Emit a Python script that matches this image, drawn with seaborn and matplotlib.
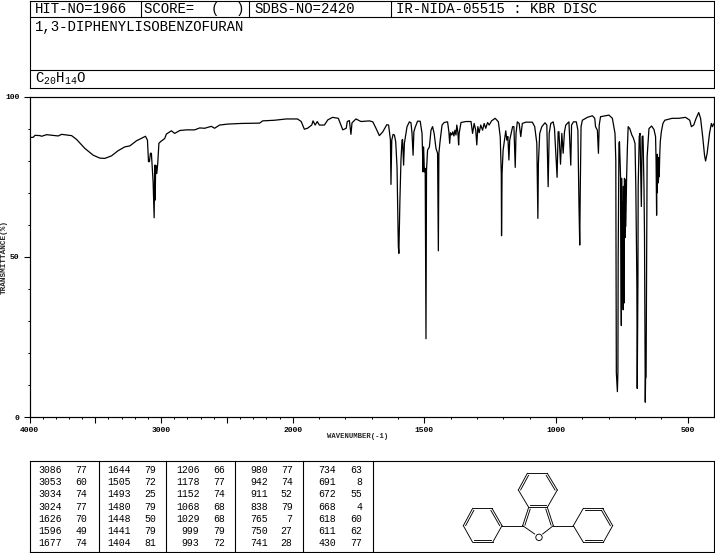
import numpy as np
import pandas as pd
import matplotlib
matplotlib.use("Agg")
import matplotlib.pyplot as plt
import seaborn as sns
from matplotlib.patches import Circle

# ---- data ----
wavenumber = [
    4000, 3996, 3971, 3958, 3920, 3908, 3870, 3782, 3756, 3680, 3642, 3579, 3516, 3466, 3428, 3377,
    3327, 3276, 3238, 3187, 3119, 3104, 3096, 3089, 3081, 3074, 3069, 3061, 3053, 3049, 3046, 3041,
    3033, 3026, 3017, 3005, 2973, 2960, 2922, 2897, 2858, 2808, 2770, 2745, 2707, 2669, 2619, 2594,
    2556, 2495, 2391, 2252, 2229, 2138, 2050, 1982, 1968, 1956, 1944, 1928, 1923, 1915, 1907, 1899,
    1880, 1867, 1849, 1827, 1810, 1797, 1793, 1785, 1779, 1775, 1760, 1741, 1709, 1696, 1684, 1671,
    1658, 1643, 1636, 1629, 1627, 1624, 1619, 1614, 1609, 1604, 1599, 1597, 1593, 1589, 1585, 1583,
    1579, 1576, 1572, 1566, 1557, 1551, 1547, 1543, 1540, 1535, 1526, 1516, 1509, 1505, 1503, 1500,
    1497, 1494, 1492, 1488, 1481, 1475, 1469, 1463, 1456, 1450, 1447, 1445, 1440, 1433, 1425, 1412,
    1407, 1404, 1401, 1396, 1392, 1388, 1384, 1380, 1377, 1373, 1370, 1368, 1361, 1342, 1323, 1317,
    1311, 1305, 1301, 1297, 1292, 1286, 1279, 1273, 1267, 1260, 1254, 1245, 1231, 1219, 1212, 1208,
    1207, 1205, 1201, 1196, 1191, 1187, 1183, 1179, 1176, 1165, 1160, 1155, 1152, 1147, 1140, 1134,
    1128, 1115, 1090, 1081, 1073, 1069, 1067, 1062, 1054, 1042, 1035, 1030, 1026, 1020, 1011, 1006,
    1001, 996, 992, 989, 983, 978, 973, 968, 963, 951, 944, 941, 934, 923, 917, 913,
    910, 908, 905, 900, 881, 862, 853, 850, 843, 839, 836, 831, 799, 786, 776, 773,
    771, 767, 765, 764, 761, 759, 755, 752, 751, 749, 748, 746, 745, 744, 743, 742,
    740, 738, 737, 735, 732, 729, 726, 720, 712, 706, 700, 697, 694, 693, 691.6, 689,
    688, 684, 681, 676, 673, 670, 669, 666, 664, 661, 660, 658, 656, 654, 647, 637,
    628, 622, 620, 618, 617, 616, 615, 613, 612, 611, 610, 608, 606, 604, 600, 594,
    587, 559, 534, 508, 492, 486, 477, 468, 458, 451, 443, 436, 432, 426, 417, 410,
    406, 401,
]
transmittance = [
    87.2, 87.2, 87.3, 87.9, 87.8, 87.6, 88.1, 87.7, 88.2, 87.8, 86.6, 83.8, 81.7, 80.8, 80.7, 81.5,
    83.1, 84.3, 84.6, 86.2, 87.6, 86.4, 79.7, 79.7, 82.3, 82.3, 78.9, 73.4, 62.2, 78.6, 67.7, 78.6,
    76.0, 79.0, 85.4, 85.9, 86.9, 88.3, 89.3, 88.5, 89.4, 89.6, 89.6, 89.6, 90.2, 90.1, 90.7, 90.1,
    91.1, 91.4, 91.6, 91.7, 92.4, 92.6, 93.0, 93.0, 92.2, 89.8, 90.1, 91.1, 92.4, 91.1, 92.2, 91.1,
    91.1, 92.7, 93.5, 93.2, 89.6, 90.1, 92.2, 92.5, 88.2, 91.8, 93.0, 92.2, 92.4, 92.1, 90.1, 87.8,
    89.0, 91.2, 91.1, 86.4, 72.6, 86.4, 88.2, 88.0, 85.9, 78.1, 53.2, 51.1, 67.7, 80.2, 86.4, 86.6,
    78.6, 85.4, 87.5, 90.6, 92.1, 91.8, 88.5, 81.7, 89.0, 90.4, 92.3, 92.3, 88.5, 76.5, 84.3, 76.5,
    77.6, 24.5, 77.0, 83.3, 84.3, 89.5, 90.6, 88.5, 83.8, 82.3, 51.9, 82.3, 86.4, 91.1, 91.9, 92.1,
    89.0, 85.4, 88.7, 88.0, 89.0, 87.7, 89.5, 88.0, 91.1, 89.0, 84.9, 88.5, 91.9, 92.2, 92.2, 88.5,
    91.6, 89.5, 84.9, 90.6, 88.7, 91.1, 89.5, 91.6, 90.1, 91.9, 91.1, 92.4, 93.2, 92.1, 87.5, 76.0,
    56.6, 76.0, 83.3, 86.4, 89.3, 86.4, 87.5, 80.2, 86.4, 90.6, 90.6, 77.9, 88.5, 92.1, 91.6, 87.5,
    91.6, 92.0, 92.0, 90.6, 85.4, 62.0, 79.1, 88.5, 90.6, 91.8, 91.1, 71.9, 88.5, 91.6, 92.1, 90.1,
    82.3, 74.8, 89.0, 89.0, 78.9, 88.5, 82.3, 89.0, 91.1, 92.1, 78.6, 91.1, 92.1, 92.1, 89.5, 66.7,
    53.7, 70.8, 90.6, 92.6, 93.5, 94.0, 93.2, 90.6, 89.5, 82.3, 91.1, 93.7, 94.2, 93.2, 88.5, 80.0,
    14.0, 8.0, 14.0, 50.0, 85.4, 85.9, 75.0, 28.6, 74.5, 42.0, 67.0, 45.0, 33.5, 72.0, 40.0, 35.6,
    74.5, 56.0, 74.0, 59.5, 74.5, 84.0, 90.6, 90.0, 88.0, 87.0, 85.4, 72.0, 50.6, 41.8, 9.0, 41.8,
    72.0, 87.5, 88.5, 65.7, 87.5, 87.7, 85.0, 72.0, 57.0, 4.7, 12.0, 12.5, 50.0, 81.2, 90.0, 90.8,
    89.7, 87.5, 80.0, 63.0, 78.0, 70.0, 82.0, 73.0, 80.0, 74.0, 81.0, 75.0, 82.0, 86.0, 89.0, 91.6,
    92.6, 93.2, 93.2, 93.5, 92.6, 90.6, 91.1, 93.2, 95.0, 93.2, 87.5, 81.7, 79.9, 82.3, 88.5, 91.6,
    90.6, 91.5,
]

x_major = [4000, 3500, 3000, 2500, 2000, 1500, 1000, 500]
x_labels = {4000: "4000", 3000: "3000", 2000: "2000", 1500: "1500", 1000: "1000", 500: "500"}
x_minor = list(range(3900, 2000, -100)) + list(range(1900, 400, -100))
y_major = [0, 50, 100]
y_minor = [10, 20, 30, 40, 60, 70, 80, 90]

peak_col1 = [("3086", "77"), ("3053", "60"), ("3034", "74"), ("3024", "77"), ("1626", "70"), ("1596", "49"), ("1677", "74")]
peak_col2 = [("1644", "79"), ("1505", "72"), ("1493", "25"), ("1480", "79"), ("1448", "50"), ("1441", "79"), ("1404", "81")]
peak_col3 = [("1206", "66"), ("1178", "77"), ("1152", "74"), ("1068", "68"), ("1029", "68"), ("999", "79"), ("993", "72")]
peak_col4 = [("980", "77"), ("942", "74"), ("911", "52"), ("838", "79"), ("765", "7"), ("750", "27"), ("741", "28")]
peak_col5 = [("734", "63"), ("691", "8"), ("672", "55"), ("668", "4"), ("618", "60"), ("611", "62"), ("430", "77")]

# ---- figure ----
sns.set_style("white")
MONO = ["Liberation Mono", "DejaVu Sans Mono"]
plt.rcParams["font.family"] = MONO
plt.rcParams["mathtext.fontset"] = "custom"
plt.rcParams["mathtext.rm"] = "Liberation Mono"
plt.rcParams["mathtext.default"] = "regular"

W, H = 715, 553
PX = 0.72
fig = plt.figure(figsize=(W / 100, H / 100), dpi=100, facecolor="white")
ax = fig.add_axes([29.5 / W, 1 - 417.3 / H, 684.5 / W, 320.8 / H])

df = pd.DataFrame({"wavenumber": wavenumber, "transmittance": transmittance})
sns.lineplot(data=df, x="wavenumber", y="transmittance", sort=False, estimator=None,
             errorbar=None, color="black", linewidth=0.9, ax=ax)


def fwd(w):
    w = np.asarray(w, dtype=float)
    return np.where(w > 2000, 2000 + (w - 2000) * 0.5, w)


def inv(v):
    v = np.asarray(v, dtype=float)
    return np.where(v > 2000, 2000 + (v - 2000) * 2.0, v)


ax.set_xscale("function", functions=(fwd, inv))
ax.set_xlim(4000, 400)
ax.set_ylim(0, 100)
ax.set_xticks(x_major)
ax.set_xticklabels([x_labels.get(t, "") for t in x_major])
ax.set_xticks(x_minor, minor=True)
ax.set_yticks(y_major)
ax.set_yticks(y_minor, minor=True)
ax.tick_params(axis="both", which="both", bottom=True, left=True, top=False, right=False)
ax.tick_params(axis="both", which="major", direction="out", length=6 * PX, width=1.1 * PX,
               labelsize=5.8, pad=3.0, color="black", labelcolor="black")
ax.tick_params(axis="both", which="minor", direction="out", length=2.4 * PX, width=1.0 * PX, color="black")
for lab in ax.get_xticklabels() + ax.get_yticklabels():
    lab.set_fontweight("bold")
for s in ax.spines.values():
    s.set_visible(True)
    s.set_linewidth(1.2 * PX)
    s.set_color("black")
ax.set_xlabel("WAVENUMBER(-1)", fontsize=5.2, fontweight="bold")
ax.set_ylabel("TRANSMITTANCE(%)", fontsize=5.6, fontweight="bold")
ax.xaxis.set_label_coords((358 - 29.5) / 684.5, -(437 - 417.3) / 320.8, transform=ax.transAxes)
ax.xaxis.label.set_verticalalignment("center")
ax.yaxis.set_label_coords((4 - 29.5) / 684.5, 0.5, transform=ax.transAxes)
ax.yaxis.label.set_verticalalignment("center")

# overlay in image pixels: header boxes, peak table, structure drawing
ov = fig.add_axes([0, 0, 1, 1], facecolor="none")
ov.set_xlim(0, W)
ov.set_ylim(H, 0)
ov.axis("off")


def seg(x0, y0, x1, y1, lw=1.1):
    ov.plot([x0, x1], [y0, y1], color="black", lw=lw * PX, solid_capstyle="projecting", clip_on=False)


def box(x0, y0, x1, y1):
    seg(x0, y0, x1, y0); seg(x1, y0, x1, y1); seg(x1, y1, x0, y1); seg(x0, y1, x0, y0)


box(29.5, 0.5, 714, 87.5)
seg(29.5, 17, 714, 17)
seg(29.5, 69.5, 714, 69.5)
for vx in (140.7, 248.5, 390.7):
    seg(vx, 0.5, vx, 17)

HEAD = 10.08
for tx, txt in ((35, "HIT-NO=1966"), (144, "SCORE=  (  )"), (254, "SDBS-NO=2420"),
                (396.5, "IR-NIDA-05515 : KBR DISC")):
    ov.text(tx, 9.2, txt, fontsize=HEAD, va="center", ha="left", color="black")
ov.text(35, 27, "1,3-DIPHENYLISOBENZOFURAN", fontsize=HEAD, va="center", ha="left", color="black")
ov.text(35, 79, r"$C_{20}H_{14}O$", fontsize=HEAD, va="center", ha="left", color="black")

box(29.5, 460.7, 714, 552.3)
for vx in (98.7, 166.3, 235.3, 303.3, 372.5):
    seg(vx, 460.7, vx, 552.3)

rows_y = [470, 482.2, 494.4, 506.7, 518.8, 531, 543.3]
for col, (xa, xb) in zip((peak_col1, peak_col2, peak_col3, peak_col4, peak_col5),
                         ((62, 87), (131, 156), (199.5, 225), (268, 292.5), (336, 362))):
    for (wn, tr), ry in zip(col, rows_y):
        ov.text(xa, ry, wn, fontsize=7.1, ha="right", va="center", color="black")
        ov.text(xb, ry, tr, fontsize=7.1, ha="right", va="center", color="black")


def P(cx, cy):
    return 370 + cx / 3, 400 + cy / 3


def bond(a, b, lw=0.9):
    (x0, y0), (x1, y1) = P(*a), P(*b)
    seg(x0, y0, x1, y1, lw)


def double(a, b, centre):
    bond(a, b)
    (x0, y0), (x1, y1), (cx, cy) = P(*a), P(*b), P(*centre)
    dx, dy = x1 - x0, y1 - y0
    n = np.hypot(dx, dy)
    nx, ny = -dy / n, dx / n
    if (cx - x0) * nx + (cy - y0) * ny < 0:
        nx, ny = -nx, -ny
    off = 2.0
    sx, sy = dx / n * 1.2, dy / n * 1.2
    seg(x0 + nx * off + sx, y0 + ny * off + sy, x1 + nx * off - sx, y1 + ny * off - sy, 0.9)


# fused benzene ring
c = (503, 271)
double((445, 270), (472, 220), c); bond((472, 220), (532, 220)); double((532, 220), (562, 270), c)
bond((562, 270), (532, 322)); double((532, 322), (476, 322), c); bond((476, 322), (445, 270))
# furan ring
c = (505, 360)
double((476, 322), (458, 377), c); double((532, 322), (550, 377), c)
bond((458, 377), (494, 402)); bond((550, 377), (518, 402))
ov.add_patch(Circle(P(507, 412), 3.2, fill=False, ec="black", lw=0.9 * PX))
# left phenyl
c = (338, 377)
double((280, 377), (308, 325), c); bond((308, 325), (366, 325)); double((366, 325), (396, 377), c)
bond((396, 377), (368, 427)); double((368, 427), (308, 427), c); bond((308, 427), (280, 377))
bond((396, 377), (458, 377))
# right phenyl
c = (670, 377)
bond((610, 377), (640, 325)); double((640, 325), (698, 325), c); double((698, 325), (728, 377), c)
bond((728, 377), (700, 427)); double((700, 427), (640, 427), c); bond((640, 427), (610, 377))
bond((550, 377), (610, 377))

fig.savefig("out.png", dpi=100, facecolor="white")
